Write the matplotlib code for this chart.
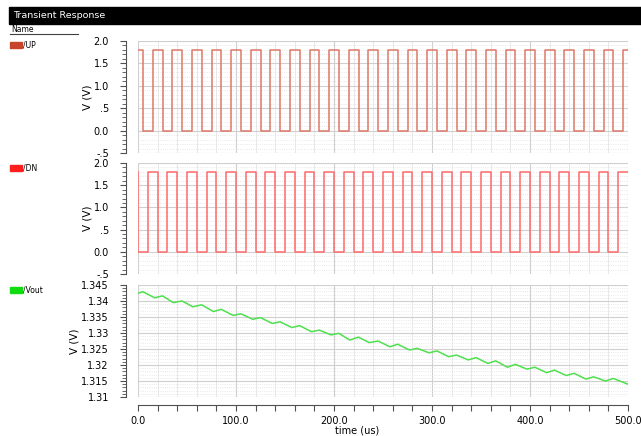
import matplotlib
matplotlib.use("Agg")
import matplotlib.pyplot as plt
from matplotlib.patches import Rectangle
from matplotlib.lines import Line2D
from matplotlib.ticker import MultipleLocator, FixedLocator


# =========================
# DATA
# =========================
# /UP : starts high, toggles between 0 and 1.8 V
up_high = 1.8
up_fall = [5, 25, 45, 65, 85, 105, 125, 145, 165, 185, 205, 225, 245, 265, 285,
           305, 325, 345, 365, 385, 405, 425, 445, 465, 485]
up_rise = [15, 35, 55, 75, 95, 115, 135, 155, 175, 195, 215, 235, 255, 275, 295,
           315, 335, 355, 375, 395, 415, 435, 455, 475, 495]

# /DN : short spike at t=0, then high from 10+20k to 20+20k
dn_high = 1.8
dn_fall = [0.4, 20, 40, 60, 80, 100, 120, 140, 160, 180, 200, 220, 240, 260, 280,
           300, 320, 340, 360, 380, 400, 420, 440, 460, 480]
dn_rise = [10, 30, 50, 70, 90, 110, 130, 150, 170, 190, 210, 230, 250, 270, 290,
           310, 330, 350, 370, 390, 410, 430, 450, 470, 490]

# /Vout : peaks and troughs
vout_t = [0, 5, 17, 25, 36, 45, 56, 65, 77, 85, 97, 105, 117, 125, 137, 145,
          157, 165, 177, 185, 197, 205, 216, 225, 236, 245, 257, 265, 277, 285,
          297, 305, 317, 325, 337, 345, 357, 365, 377, 385, 397, 405, 417, 425,
          437, 445, 457, 465, 477, 485, 500]
vout_v = [1.3424, 1.3429, 1.3410, 1.3416, 1.3395, 1.3400, 1.3382, 1.3388,
          1.3367, 1.3374, 1.3355, 1.3360, 1.3343, 1.3348, 1.3330, 1.3335,
          1.3317, 1.3323, 1.3304, 1.3309, 1.3294, 1.3299, 1.3278, 1.3287,
          1.3270, 1.3275, 1.3257, 1.3265, 1.3247, 1.3252, 1.3238, 1.3244,
          1.3226, 1.3231, 1.3216, 1.3223, 1.3205, 1.3213, 1.3193, 1.3202,
          1.3187, 1.3193, 1.3176, 1.3184, 1.3167, 1.3174, 1.3156, 1.3163,
          1.3150, 1.3158, 1.3140]

t_end = 500

# =========================
# HELPERS
# =========================
W, H = 641, 436


def px_rect(x0, y0, x1, y1):
    # pixel box (top-left origin) -> figure fraction rect
    return [x0 / W, 1 - y1 / H, (x1 - x0) / W, (y1 - y0) / H]


def square_wave(start_level, high, rises, falls, t_stop):
    edges = sorted([(t, high) for t in rises] + [(t, 0.0) for t in falls])
    ts, vs = [0.0], [start_level]
    level = start_level
    for t, new in edges:
        ts += [t, t]
        vs += [level, new]
        level = new
    ts.append(t_stop)
    vs.append(level)
    return ts, vs


def style_axes(ax, bottom=False):
    ax.set_xlim(0, t_end)
    ax.spines["top"].set_visible(False)
    ax.spines["right"].set_visible(False)
    ax.spines["left"].set_position(("outward", 9))
    ax.spines["left"].set_color("#505050")
    ax.xaxis.set_major_locator(MultipleLocator(100))
    ax.xaxis.set_minor_locator(MultipleLocator(20))
    ax.grid(which="major", color="#cfcfcf", lw=0.8, ls="-")
    ax.grid(which="minor", color="#e2e2e2", lw=0.6, ls=":")
    ax.grid(which="minor", axis="x", color="#e8e8e8", lw=0.7, ls="-")
    ax.tick_params(axis="y", which="major", length=4, width=0.8,
                   labelsize=7, color="#505050", pad=8)
    ax.tick_params(axis="y", which="minor", length=3, width=0.6, color="#505050")
    if bottom:
        ax.spines["bottom"].set_position(("outward", 6))
        ax.spines["bottom"].set_color("#505050")
        ax.tick_params(axis="x", which="both", length=4, width=0.8,
                       labelsize=7, color="#505050", pad=4)
        ax.set_xticks([0, 100, 200, 300, 400, 500])
        ax.set_xticklabels(["0.0", "100.0", "200.0", "300.0", "400.0", "500.0"])
    else:
        ax.spines["bottom"].set_visible(False)
        ax.tick_params(axis="x", which="both", length=0, labelbottom=False)
    ax.set_ylabel("V (V)", fontsize=7.5, labelpad=1)
    ax.set_axisbelow(True)


def legend_item(y, color, text):
    fig.patches.append(Rectangle((10 / W, 1 - (y + 3) / H), 12 / W, 6 / H,
                                 transform=fig.transFigure, color=color))
    fig.text(23 / W, 1 - y / H, text, fontsize=5.5, va="center", ha="left")


# =========================
# FIGURE
# =========================
fig = plt.figure(figsize=(W / 100, H / 100), dpi=100)

# header bar
fig.patches.append(Rectangle((9 / W, 1 - 24 / H), (W - 9) / W, 17 / H,
                             transform=fig.transFigure, color="black"))
fig.text(13 / W, 1 - 15.5 / H, "Transient Response", color="white",
         fontsize=6.8, va="center", ha="left")
fig.text(11 / W, 1 - 29 / H, "Name", fontsize=5.5, va="center", ha="left")
fig.lines.append(Line2D([10 / W, 78 / W], [1 - 34 / H, 1 - 34 / H],
                        transform=fig.transFigure, color="#404040", lw=0.8))

yt_sq = [-0.5, 0.0, 0.5, 1.0, 1.5, 2.0]
yl_sq = ["-.5", "0.0", ".5", "1.0", "1.5", "2.0"]

# /UP
ax1 = fig.add_axes(px_rect(138, 41, 628, 153))
t, v = square_wave(up_high, up_high, up_rise, up_fall, t_end)
ax1.plot(t, v, color="#de7868", lw=1.1)
ax1.set_ylim(-0.5, 2.0)
ax1.yaxis.set_major_locator(FixedLocator(yt_sq))
ax1.set_yticklabels(yl_sq)
ax1.yaxis.set_minor_locator(MultipleLocator(0.1))
style_axes(ax1)
legend_item(45, "#c8452c", "/UP")

# /DN
ax2 = fig.add_axes(px_rect(138, 163, 628, 274))
t, v = square_wave(dn_high, dn_high, dn_rise, dn_fall, t_end)
ax2.plot(t, v, color="#ff6a6a", lw=1.1)
ax2.set_ylim(-0.5, 2.0)
ax2.yaxis.set_major_locator(FixedLocator(yt_sq))
ax2.set_yticklabels(yl_sq)
ax2.yaxis.set_minor_locator(MultipleLocator(0.1))
style_axes(ax2)
legend_item(168, "#ff1e1e", "/DN")

# /Vout
ax3 = fig.add_axes(px_rect(138, 285, 628, 397))
ax3.plot(vout_t, vout_v, color="#4ee04e", lw=1.1)
ax3.set_ylim(1.31, 1.345)
vt = [1.31, 1.315, 1.32, 1.325, 1.33, 1.335, 1.34, 1.345]
ax3.yaxis.set_major_locator(FixedLocator(vt))
ax3.set_yticklabels(["%g" % x for x in vt])
ax3.yaxis.set_minor_locator(MultipleLocator(0.001))
style_axes(ax3, bottom=True)
fig.text(357 / W, 1 - 430 / H, "time (us)", fontsize=7, ha="center", va="center")
legend_item(290, "#10dc10", "/Vout")

fig.savefig("out.png", dpi=100)
